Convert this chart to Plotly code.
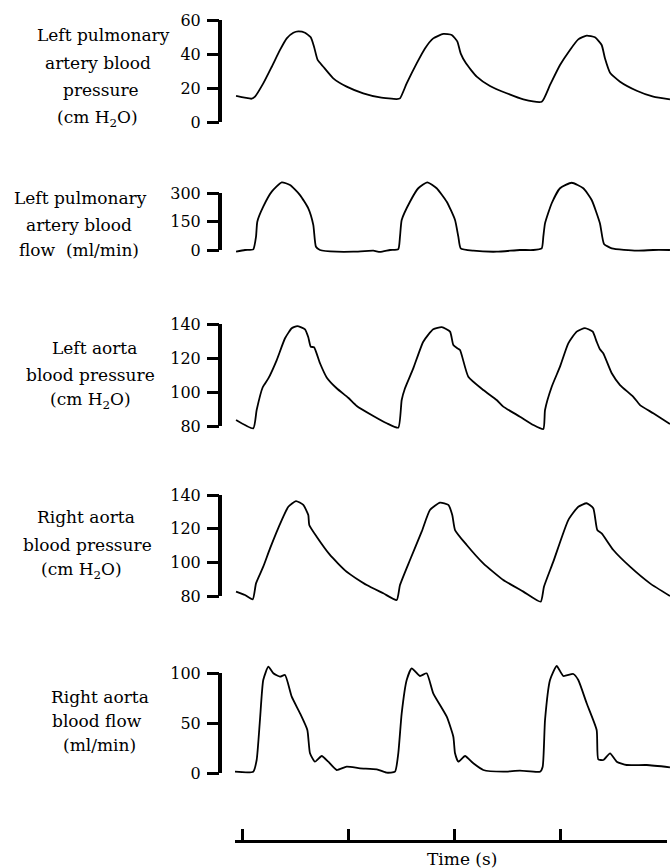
import plotly.graph_objects as go

# ---------------- data (time in s, values in panel units) ----------------
t_lpa_p = [-0.056, 0.091, 0.122, 0.200, 0.280, 0.358, 0.421, 0.483, 0.530, 0.593, 0.647, 0.678, 0.712,
           0.765, 0.859, 0.985, 1.141, 1.299, 1.456, 1.487, 1.550, 1.644, 1.722, 1.800, 1.895, 1.974,
           2.027, 2.058, 2.108, 2.209, 2.334, 2.491, 2.648, 2.821, 2.899, 2.993, 3.087, 3.165, 3.244,
           3.322, 3.385, 3.416, 3.464, 3.558, 3.715, 3.871, 4.028]
v_lpa_p = [15.3, 13.7, 14.9, 22.7, 32.5, 42.4, 49.2, 52.5, 53.3, 52.5, 49.8, 44.3, 36.5,
           32.5, 25.7, 20.8, 16.9, 14.5, 13.5, 13.9, 22.7, 34.5, 43.3, 49.2, 51.8, 51.2,
           47.3, 40.4, 34.5, 26.7, 21.2, 16.9, 13.3, 11.9, 21.8, 33.5, 42.4, 48.6, 50.8,
           49.8, 45.3, 37.5, 29.0, 23.7, 18.4, 14.9, 13.3]

t_lpa_f = [-0.056, 0.028, 0.106, 0.132, 0.144, 0.200, 0.280, 0.374, 0.452, 0.546, 0.624, 0.671, 0.696,
           0.734, 0.891, 1.048, 1.236, 1.299, 1.393, 1.471, 1.487, 1.503, 1.581, 1.659, 1.744, 1.832,
           1.927, 2.005, 2.036, 2.058, 2.177, 2.397, 2.616, 2.742, 2.821, 2.836, 2.852, 2.915, 2.993,
           3.103, 3.212, 3.291, 3.369, 3.407, 3.480, 3.715, 3.871, 4.028]
v_lpa_f = [-9, 0, 3.5, 70, 149, 228, 307, 356, 342, 289, 219, 132, 17,
           0, -9, -9, -3.5, -10, 0, 5, 70, 158, 254, 325, 356, 325,
           254, 158, 70, 9, -3.5, -9, 0, 0, 9, 70, 140, 246, 325,
           354, 325, 263, 140, 32, 9, -3.5, 0, 0]

t_la_p = [-0.056, 0.106, 0.138, 0.195, 0.248, 0.327, 0.405, 0.468, 0.520, 0.593, 0.624, 0.647, 0.678,
          0.734, 0.797, 0.891, 1.000, 1.080, 1.236, 1.362, 1.471, 1.503, 1.534, 1.612, 1.706, 1.800,
          1.880, 1.958, 1.989, 2.027, 2.052, 2.130, 2.271, 2.397, 2.459, 2.616, 2.742, 2.836, 2.852,
          2.915, 2.993, 3.071, 3.150, 3.228, 3.301, 3.338, 3.369, 3.400, 3.480, 3.558, 3.683, 3.746,
          3.871, 4.028]
v_la_p = [83.5, 78.6, 89.4, 102.8, 108.0, 118.8, 131.6, 137.5, 138.8, 136.9, 132.2, 126.6, 126.3,
          116.9, 108.6, 102.2, 96.6, 91.8, 85.9, 81.6, 79.0, 95.3, 102.2, 113.9, 129.6, 136.9,
          138.1, 135.5, 127.6, 125.7, 124.7, 109.0, 101.2, 95.3, 91.4, 85.5, 80.6, 78.2, 89.4,
          103.1, 114.9, 128.6, 135.5, 137.6, 135.5, 129.6, 125.1, 122.8, 111.0, 104.1, 97.2, 92.3,
          87.5, 81.2]

t_ra_p = [-0.056, 0.028, 0.101, 0.132, 0.200, 0.264, 0.374, 0.436, 0.508, 0.577, 0.624, 0.633, 0.703,
          0.828, 0.985, 1.174, 1.330, 1.456, 1.487, 1.581, 1.691, 1.769, 1.864, 1.942, 1.979, 2.005,
          2.115, 2.271, 2.459, 2.648, 2.811, 2.842, 2.930, 3.071, 3.165, 3.244, 3.306, 3.344, 3.385,
          3.495, 3.652, 3.840, 4.028]
v_ra_p = [82.6, 80.6, 78.0, 87.5, 97.4, 108.3, 125.1, 133.0, 136.4, 134.1, 128.1, 122.2, 115.2,
          104.4, 94.4, 86.5, 81.6, 77.6, 86.5, 101.4, 118.2, 131.1, 135.4, 134.1, 128.1, 119.2,
          110.3, 99.4, 89.5, 82.6, 76.6, 85.5, 100.4, 125.1, 133.0, 135.1, 132.1, 119.2, 117.2,
          107.3, 97.4, 87.5, 80.0]

t_ra_f = [-0.066, 0.106, 0.138, 0.169, 0.200, 0.248, 0.295, 0.358, 0.405, 0.468, 0.546, 0.615, 0.640,
          0.687, 0.750, 0.812, 0.891, 0.985, 1.111, 1.268, 1.362, 1.440, 1.471, 1.503, 1.550, 1.597,
          1.675, 1.738, 1.800, 1.927, 1.989, 2.005, 2.036, 2.099, 2.177, 2.271, 2.459, 2.616, 2.805,
          2.830, 2.852, 2.899, 2.962, 3.024, 3.118, 3.165, 3.244, 3.338, 3.353, 3.401, 3.464, 3.527,
          3.621, 3.809, 4.028]
v_ra_f = [1.3, 1.3, 13, 53, 93, 106.3, 99.7, 96.3, 98, 76.3, 59.7, 43, 19.7,
          11.3, 17, 11.3, 3, 6.3, 4.7, 3.7, 0.3, 1.3, 19.7, 59.7, 93, 104.7,
          97, 99.7, 79.7, 56.3, 36.3, 19.7, 11.3, 17, 9.7, 3, 1.3, 2.3, 1.3,
          6.3, 53, 93, 107, 97, 99, 93, 69.7, 43, 13.7, 13, 19.7, 11.3,
          8, 8, 5.7]

ticks_lpa_p = [0, 20, 40, 60]
ticks_lpa_f = [0, 150, 300]
ticks_la_p = [80, 100, 120, 140]
ticks_ra_p = [80, 100, 120, 140]
ticks_ra_f = [0, 50, 100]
time_ticks = [0, 1, 2, 3, 4]

labels_lpa_p = ["Left pulmonary", "artery blood", "pressure", "(cm H<sub>2</sub>O)"]
labels_lpa_f = ["Left pulmonary", "artery blood", "flow\u00a0 (ml/min)"]
labels_la_p = ["Left aorta", "blood pressure", "(cm H<sub>2</sub>O)"]
labels_ra_p = ["Right aorta", "blood pressure", "(cm H<sub>2</sub>O)"]
labels_ra_f = ["Right aorta", "blood flow", "(ml/min)"]
time_title = "Time (s)"

# ---------------- layout geometry (pixels) ----------------
W, H = 670, 868
FONT = "DejaVu Serif"
T0_PX, PX_PER_T = 242, 106.25
BAR_X = 220


def fx(p):
    return p / W


def fy(p):
    return 1 - p / H


def t_at(px):
    return (px - T0_PX) / PX_PER_T


panels = [
    (t_lpa_p, v_lpa_p, ticks_lpa_p, (20, 122), (8, 132), labels_lpa_p, [35, 63, 90, 118], [103, 98, 101, 97]),
    (t_lpa_f, v_lpa_f, ticks_lpa_f, (193, 250), (176, 262), labels_lpa_f, [198, 225, 250], [80, 79, 79]),
    (t_la_p, v_la_p, ticks_la_p, (324, 426), (312, 438), labels_la_p, [348, 375, 400], [94, 91, 91]),
    (t_ra_p, v_ra_p, ticks_ra_p, (495, 596), (484, 608), labels_ra_p, [517, 545, 570], [86, 87, 81]),
    (t_ra_f, v_ra_f, ticks_ra_f, (673, 773), (660, 786), labels_ra_f, [697, 721, 745], [100, 97, 99]),
]

fig = go.Figure()
layout = dict(
    width=W, height=H, margin=dict(l=0, r=0, t=0, b=0),
    paper_bgcolor="white", plot_bgcolor="white", showlegend=False,
)
shapes = []
annotations = []

for i, (t, v, ticks, (ptop, pbot), (dtop, dbot), labels, ly, lx) in enumerate(panels, start=1):
    sfx = "" if i == 1 else str(i)
    vtop, vbot = max(ticks), min(ticks)
    slope = (pbot - ptop) / (vtop - vbot)
    rng = [vbot - (dbot - pbot) / slope, vtop + (ptop - dtop) / slope]
    fig.add_trace(go.Scatter(
        x=t, y=v, mode="lines", xaxis="x" + sfx, yaxis="y" + sfx,
        line=dict(color="black", width=1.8, shape="spline", smoothing=0.5),
        hoverinfo="skip",
    ))
    layout["xaxis" + sfx] = dict(
        domain=[fx(BAR_X), 1], range=[t_at(BAR_X), t_at(W)], anchor="y" + sfx,
        visible=False, fixedrange=True,
    )
    layout["yaxis" + sfx] = dict(
        domain=[fy(dbot), fy(dtop)], range=rng, anchor="x" + sfx,
        tickvals=ticks, ticktext=[str(k) for k in ticks],
        ticks="outside", ticklen=12, tickwidth=3, tickcolor="black",
        ticklabelstandoff=3,
        showline=False, showgrid=False, zeroline=False, fixedrange=True,
        tickfont=dict(family=FONT, size=16, color="black"),
    )
    shapes.append(dict(
        type="line", xref="paper", yref="y" + sfx,
        x0=fx(BAR_X), x1=fx(BAR_X), y0=vbot, y1=vtop,
        line=dict(color="black", width=4),
    ))
    for text, yy, xx in zip(labels, ly, lx):
        annotations.append(dict(
            text=text, x=fx(xx), y=fy(yy), xref="paper", yref="paper",
            xanchor="center", yanchor="middle", showarrow=False,
            font=dict(family=FONT, size=17, color="black"),
        ))

# time axis
fig.add_trace(go.Scatter(x=[], y=[], xaxis="x6", yaxis="y6", hoverinfo="skip"))
layout["xaxis6"] = dict(
    domain=[fx(235), fx(667)], range=[t_at(235), t_at(667)], anchor="y6",
    tickvals=time_ticks, showticklabels=False, ticks="inside", ticklen=11, tickwidth=3,
    tickcolor="black", showline=True, linecolor="black", linewidth=3,
    showgrid=False, zeroline=False, fixedrange=True,
)
layout["yaxis6"] = dict(domain=[fy(840), fy(800)], range=[0, 1], anchor="x6", visible=False, fixedrange=True)
annotations.append(dict(
    text=time_title, x=fx(462), y=fy(859), xref="paper", yref="paper",
    xanchor="center", yanchor="middle", showarrow=False,
    font=dict(family=FONT, size=17, color="black"),
))

layout["shapes"] = shapes
layout["annotations"] = annotations
fig.update_layout(**layout)
fig.write_html(
    "out.html",
    config={"displayModeBar": False},
    post_script="document.body.style.margin='0';document.body.style.overflow='hidden';",
)
